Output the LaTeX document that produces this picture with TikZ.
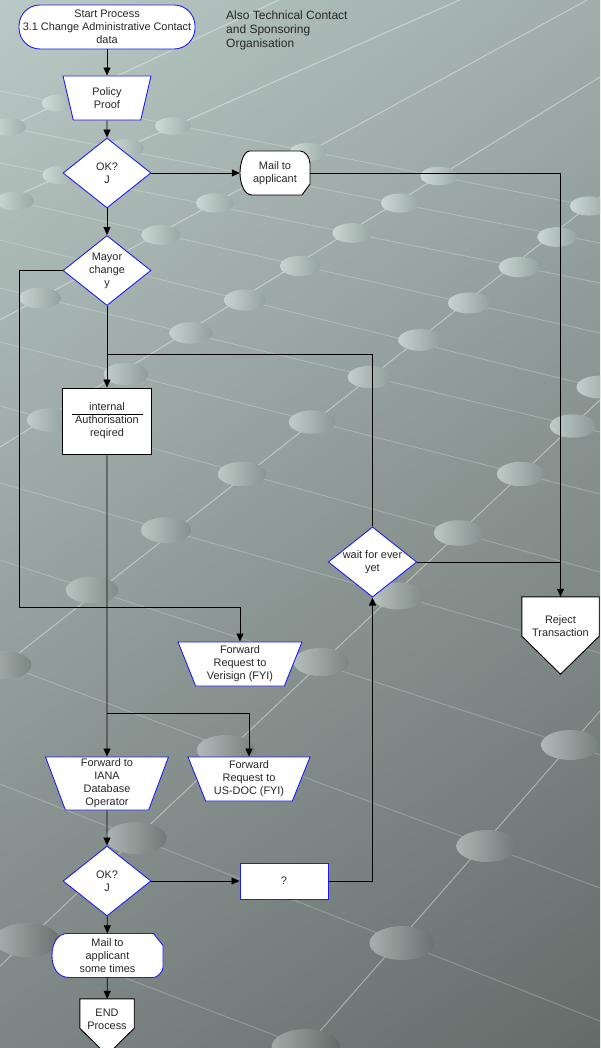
\documentclass[tikz,border=0pt]{standalone}
\usepackage{fontspec}
\setmainfont{Liberation Sans}
\usetikzlibrary{shapes.geometric,arrows.meta,calc,positioning,shadings}
\definecolor{bordblue}{RGB}{30,30,240}
\definecolor{bgUL}{RGB}{186,201,197}
\definecolor{bgUR}{RGB}{160,173,170}
\definecolor{bgLL}{RGB}{124,134,132}
\definecolor{bgLR}{RGB}{100,108,106}
\definecolor{elTL}{RGB}{214,228,224}
\definecolor{elTR}{RGB}{168,184,180}
\definecolor{elBL}{RGB}{162,170,168}
\definecolor{elBR}{RGB}{98,106,104}

\begin{document}
\begin{tikzpicture}[x=1pt,y=-1pt,
	txt/.style={align=center,inner sep=0pt,text=black!85,font=\fontsize{10.9}{13}\selectfont},
	bluebox/.style={draw=bordblue,fill=white,line width=0.9pt},
	blackbox/.style={draw=black,fill=white,line width=0.9pt},
	terminal/.style={bluebox,txt,rectangle,rounded corners=21pt,minimum width=176pt,minimum height=44pt},
	manual/.style={bluebox,txt,trapezium,shape border rotate=180,trapezium stretches body,trapezium angle=64,minimum height=44pt},
	decision/.style={bluebox,txt,diamond,aspect=1.26,minimum width=88pt,minimum height=70pt},
	holder/.style={rectangle,inner sep=0pt},
	conn/.style={line width=0.8pt},
	arr/.style={conn,-{Triangle[width=7pt,length=8pt]}},
	lattice/.style={white,opacity=0.4,line width=1pt}]
	\useasboundingbox (0,0) rectangle (600,1048);
	\begin{scope}
		\clip (0,0) rectangle (600,1048);
		\shade[upper left=bgUL,upper right=bgUR,lower left=bgLL,lower right=bgLR] (0,0) rectangle (600,1048);
		\foreach \ya/\yb in {131/-151,203/-62,320/-7,447/77,668/197,966/400,1397/711}
			\draw[lattice] (0,\ya) -- (600,\yb);
		\foreach \ya/\yb in {91/208,126/243,163/283,198/333,240/388,288/432,342/494,406/572,483/653,560/755,663/888,784/1021,930/1160}
			\draw[lattice,opacity=0.22] (0,\ya) -- (600,\yb);
		\foreach \ex/\ey in {59/103,8/127,173/126,308/152,126/148,61/175,15/201,215/203,439/176,400/203,589/206,161/235,352/233,557/237,300/266,519/267,40/298,245/300,469/303,191/333,420/340,126/374,370/377,599/387,50/420,312/422,573/426,242/474,521/474,166/530,459/533,92/590,398/596,4/665,321/662,226/750,570/745,136/838,487/846,27/940,402/943,306/1047}{
			\pgfmathtruncatemacro\p{100-\ey/10.48}
			\pgfmathsetmacro\rx{15.5+0.018*\ey}
			\pgfmathsetmacro\ry{7.5+0.01*\ey}
			\shade[left color=elTL!\p!elBL,right color=elTR!\p!elBR] (\ex,\ey) ellipse [x radius=\rx,y radius=\ry];
		}
	\end{scope}

	\node[terminal] (start) at (107,27) {Start Process\\3.1 Change Administrative Contact\\data};
	\node[txt,align=left,anchor=north west,font=\fontsize{12}{14}\selectfont] (note) at (226,11) {Also Technical Contact\\and Sponsoring\\Organisation};
	\node[manual,minimum width=88pt] (policy) at (107,98) {Policy\\Proof};
	\node[decision] (ok) at (107,173) {OK?\\J};
	\node[holder,minimum width=70pt,minimum height=44pt] (mail) at (275,173) {};
	\draw[blackbox,shift={(mail.center)}] (-25,-22) -- (25,-22) .. controls (30,-22) and (35,-16) .. (35,-9) -- (35,11) -- (27,22) -- (-23,22) .. controls (-32,22) and (-35,8) .. (-35,0) .. controls (-35,-8) and (-32,-22) .. (-25,-22) -- cycle;
	\node[txt] (mailtxt) at (mail.center) {Mail to\\applicant};
	\node[decision] (mayor) at (107,270.5) {Mayor\\change\\y};
	\node[blackbox,txt,minimum width=89pt,minimum height=66pt] (auth) at (107,421) {internal\\Authorisation\\reqired};
	\draw[conn] ($(auth.center)+(-35.5,-7)$) -- ($(auth.center)+(35.5,-7)$);
	\node[decision] (wait) at (372.5,562) {wait for ever\\yet};
	\node[holder,minimum width=77pt,minimum height=39pt] (reject) at (560.5,616.5) {};
	\draw[blackbox] (reject.north west) -- (reject.north east) -- (reject.south east) -- ($(reject.south)+(0,38)$) -- (reject.south west) -- cycle;
	\node[txt] (rejecttxt) at (560.5,626) {Reject\\Transaction};
	\node[manual,minimum width=124pt] (verisign) at (240,664) {Forward\\Request to\\Verisign (FYI)};
	\node[manual,minimum width=123pt,minimum height=53pt,trapezium angle=68] (iana) at (107,783.5) {Forward to\\IANA\\Database\\Operator};
	\node[manual,minimum width=122pt] (usdoc) at (249,779) {Forward\\Request to\\US-DOC (FYI)};
	\node[decision] (ok2) at (107,881) {OK?\\J};
	\node[bluebox,txt,minimum width=88pt,minimum height=36pt] (qbox) at (284,881) {?};
	\node[holder,minimum width=111pt,minimum height=44pt] (mail2) at (107.5,955.5) {};
	\draw[bluebox,shift={(mail2.center)}] (-40,-22) -- (46,-22) -- (55.5,-10) -- (55.5,12) .. controls (55.5,16) and (50,22) .. (46,22) -- (-38,22) .. controls (-50,22) and (-55.5,12) .. (-55.5,0) .. controls (-55.5,-12) and (-50,-22) .. (-40,-22) -- cycle;
	\node[txt] (mail2txt) at (mail2.center) {Mail to\\applicant\\some times};
	\node[holder,minimum width=54pt,minimum height=29pt] (endp) at (107,1013.5) {};
	\draw[blackbox] (endp.north west) -- (endp.north east) -- (endp.south east) -- ($(endp.south)+(0,27)$) -- (endp.south west) -- cycle;
	\node[txt] (endtxt) at (107,1019.5) {END\\Process};

	\coordinate (lft) at (19,607);
	\coordinate (back) at (107,354);
	\coordinate (split) at (107,713);
	\draw[arr] (start) -- (policy);
	\draw[arr] (policy) -- (ok);
	\draw[arr] (ok) -- (mail);
	\draw[arr] (mail.east) -| (reject.north);
	\draw[arr] (ok) -- (mayor);
	\draw[arr] (mayor.west) -| (lft) -| (verisign.north);
	\draw[arr] (mayor) -- (auth);
	\draw[conn] (wait.north) |- (back);
	\draw[arr] (auth) -- (iana);
	\draw[arr] (split) -| (usdoc.north);
	\draw[arr] (iana) -- (ok2);
	\draw[arr] (ok2) -- (qbox);
	\draw[arr] (qbox.east) -| (wait.south);
	\draw[conn] (wait.east) -- (wait.east -| reject.north);
	\draw[arr] (ok2) -- (mail2);
	\draw[arr] (mail2) -- (endp);
\end{tikzpicture}
\end{document}
